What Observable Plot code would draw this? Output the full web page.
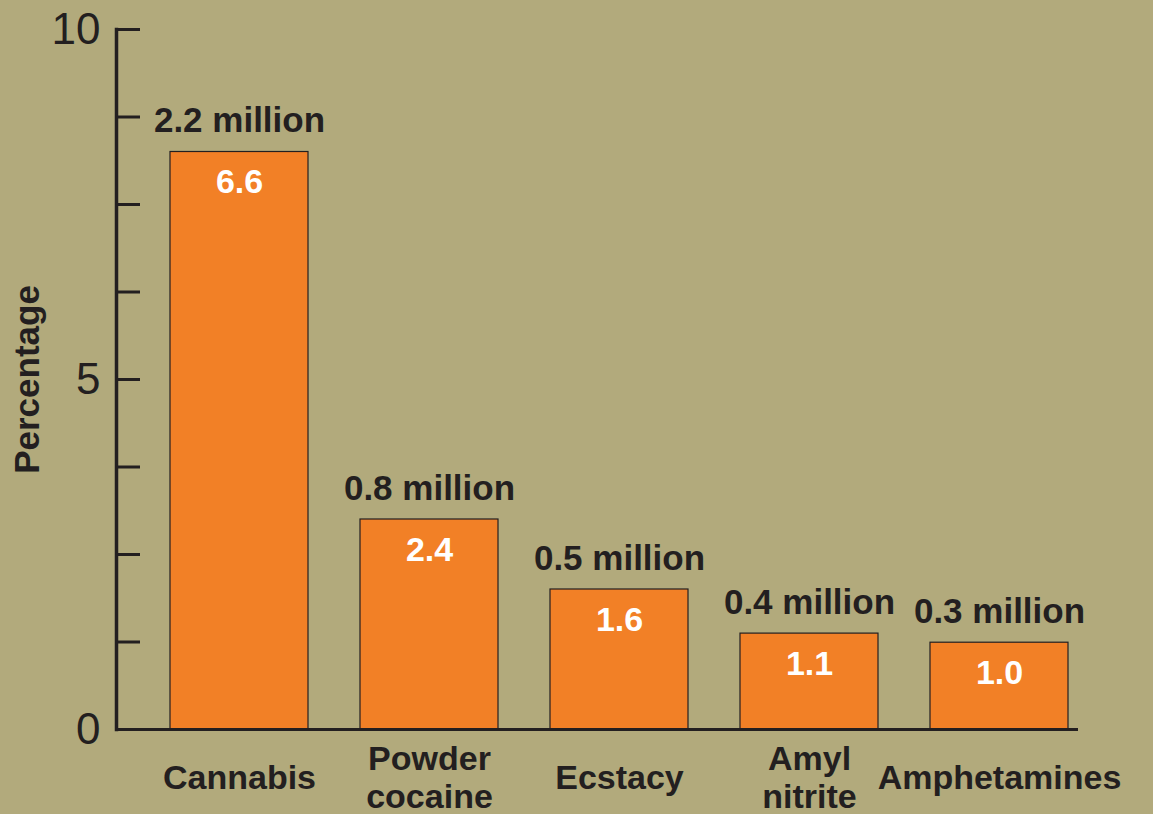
<!DOCTYPE html>
<html>
<head>
<meta charset="utf-8">
<script src="https://cdn.jsdelivr.net/npm/d3@7"></script>
<script src="https://cdn.jsdelivr.net/npm/@observablehq/plot@0.6"></script>
<style>
  html, body { margin: 0; padding: 0; background: #b2aa7c; }
  #chart { width: 1153px; height: 814px; }
</style>
</head>
<body>
<div id="chart"></div>
<script>
// Categories (line breaks as in the original labels)
const categories = ["Cannabis", "Powder\ncocaine", "Ecstacy", "Amyl\nnitrite", "Amphetamines"];
// Bar heights as read against the printed 0–10 axis
const barHeights = [8.25, 3.0, 2.0, 1.37, 1.24];
// Labels printed inside the bars
const percentLabels = ["6.6", "2.4", "1.6", "1.1", "1.0"];
// Labels printed above the bars
const userLabels = ["2.2 million", "0.8 million", "0.5 million", "0.4 million", "0.3 million"];
// Axis ticks
const yTicks = [0, 1.25, 2.5, 3.75, 5, 6.25, 7.5, 8.75, 10];
const yTickLabels = [0, 5, 10];

const data = categories.map((c, i) => ({
  category: c, height: barHeights[i], pct: percentLabels[i], users: userLabels[i]
}));

const ink = "#231f20";
const bg = "#b2aa7c";
const orange = "#f28026";
const font = "'Liberation Sans', Arial, Helvetica, sans-serif";

const chart = Plot.plot({
  width: 1153,
  height: 814,
  marginTop: 29,
  marginBottom: 85,
  marginLeft: 116,
  marginRight: 75,
  style: { background: bg, fontFamily: font, color: ink, overflow: "visible" },
  x: { domain: categories, range: [170, 1068], paddingInner: 0.274, paddingOuter: 0, axis: null },
  y: { domain: [0, 10], label: null },
  marks: [
    Plot.barY(data, { x: "category", y: "height", fill: orange, stroke: ink, strokeWidth: 1.2 }),
    Plot.text(data, { x: "category", y: "height", text: "pct", fill: "white", fontSize: 34, fontWeight: "bold", lineAnchor: "top", dy: 17 }),
    Plot.text(data, { x: "category", y: "height", text: "users", fill: ink, fontSize: 35, fontWeight: "bold", lineAnchor: "bottom", dy: -20 }),
    Plot.text(data, { x: "category", text: "category", frameAnchor: "bottom", lineAnchor: "middle", dy: 47, fontSize: 34, fontWeight: "bold", fill: ink, lineHeight: 1.12 }),
    Plot.axisY(yTicks, { tickSize: 24, dx: 24, tickFormat: () => "", stroke: ink, strokeWidth: 3, label: null }),
    Plot.axisY(yTickLabels, { tickSize: 0, tickPadding: 16, fontSize: 44, fill: ink, tickFormat: d => String(d), label: null }),
    Plot.frame({ anchor: "left", stroke: ink, strokeWidth: 3.5 }),
    Plot.ruleY([0], { stroke: ink, strokeWidth: 3 }),
    Plot.text(["Percentage"], { frameAnchor: "left", textAnchor: "middle", rotate: -90, dx: -89, lineAnchor: "middle", fontSize: 35, fontWeight: "bold", fill: ink })
  ]
});

document.getElementById("chart").appendChild(chart);
</script>
</body>
</html>
